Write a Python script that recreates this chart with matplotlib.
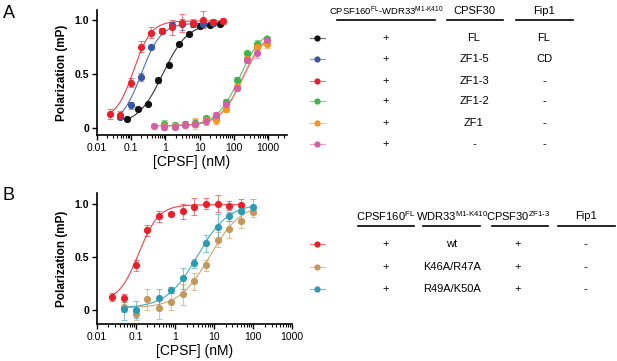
#!/usr/bin/env python3
# -*- coding: utf-8 -*-

import numpy as np
import matplotlib
matplotlib.use('Agg')
import matplotlib.pyplot as plt
from matplotlib.ticker import FixedLocator, LogLocator, NullFormatter

plt.rcParams['font.family'] = ['Liberation Sans', 'DejaVu Sans']
plt.rcParams['mathtext.fontset'] = 'custom'
plt.rcParams['mathtext.rm'] = 'Liberation Sans'
plt.rcParams['mathtext.it'] = 'Liberation Sans'

# ---- panel A data (CPSF concentration in nM, polarization) ----
a_conc_red = [0.024, 0.049, 0.098, 0.195, 0.39, 0.78, 1.56, 3.125, 6.25, 12.5, 25, 50]
a_red = [0.13, 0.12, 0.42, 0.75, 0.88, 0.90, 0.93, 0.97, 0.97, 1.0, 0.98, 0.99]
a_red_err = [0.05, 0.04, 0.04, 0.05, 0.05, 0.02, 0.07, 0.08, 0.04, 0.08, 0.03, 0.03]

a_conc_blue = [0.049, 0.098, 0.195, 0.39, 0.78, 1.56, 3.125, 6.25, 12.5, 25]
a_blue = [0.10, 0.21, 0.47, 0.75, 0.90, 0.95, 0.96, 0.96, 0.96, 0.97]
a_blue_err = [0.02, 0.03, 0.04, 0.02, 0.02, 0.03, 0.05, 0.03, 0.03, 0.03]

a_conc_black = [0.078, 0.156, 0.31, 0.625, 1.25, 2.5, 5, 10, 20, 40]
a_black = [0.086, 0.18, 0.22, 0.44, 0.58, 0.78, 0.87, 0.94, 0.95, 0.96]
a_black_err = [0.01, 0.01, 0.01, 0.02, 0.01, 0.01, 0.02, 0.01, 0.02, 0.02]

a_conc_green = [0.94, 1.87, 3.75, 7.5, 15, 30, 60, 120, 240, 480, 960]
a_green = [0.04, 0.03, 0.04, 0.05, 0.09, 0.10, 0.24, 0.44, 0.69, 0.78, 0.82]
a_green_err = [0.03, 0.02, 0.02, 0.03, 0.02, 0.02, 0.03, 0.03, 0.02, 0.03, 0.03]

a_conc_orange = [0.94, 1.87, 3.75, 7.5, 15, 30, 60, 120, 240, 480, 960]
a_orange = [0.02, 0.02, 0.03, 0.04, 0.07, 0.07, 0.18, 0.38, 0.64, 0.75, 0.78]
a_orange_err = [0.03, 0.03, 0.02, 0.05, 0.03, 0.03, 0.03, 0.03, 0.03, 0.03, 0.04]

a_conc_pink = [0.47, 0.94, 1.87, 3.75, 7.5, 15, 30, 60, 120, 240, 480, 960]
a_pink = [0.02, 0.005, 0.01, 0.03, 0.04, 0.06, 0.12, 0.22, 0.37, 0.63, 0.69, 0.81]
a_pink_err = [0.02, 0.02, 0.02, 0.02, 0.03, 0.03, 0.03, 0.03, 0.03, 0.03, 0.04, 0.03]

# Hill fit parameters: bottom, top, EC50 (nM), slope
a_fit_red = [0.08, 0.99, 0.12, 1.7]
a_fit_blue = [0.03, 0.97, 0.20, 1.5]
a_fit_black = [0.03, 0.97, 0.85, 1.2]
a_fit_green = [0.02, 0.93, 150, 1.3]
a_fit_orange = [0.02, 0.90, 185, 1.3]
a_fit_pink = [0.02, 0.91, 180, 1.3]

# ---- panel B data ----
b_conc_red = [0.025, 0.05, 0.1, 0.2, 0.4, 0.8, 1.6, 3.125, 6.25, 12.5, 25, 50]
b_red = [0.125, 0.115, 0.42, 0.75, 0.88, 0.90, 0.93, 0.97, 1.0, 1.0, 0.98, 0.99]
b_red_err = [0.04, 0.04, 0.05, 0.05, 0.05, 0.02, 0.07, 0.08, 0.05, 0.08, 0.04, 0.05]

b_conc_tan = [0.05, 0.1, 0.2, 0.4, 0.8, 1.6, 3.125, 6.25, 12.5, 25, 50, 100]
b_tan = [0.03, -0.04, 0.10, 0.02, 0.08, 0.15, 0.27, 0.42, 0.66, 0.76, 0.84, 0.92]
b_tan_err = [0.05, 0.05, 0.10, 0.10, 0.08, 0.10, 0.08, 0.05, 0.07, 0.08, 0.07, 0.05]

b_conc_teal = [0.05, 0.1, 0.4, 0.8, 1.6, 3.125, 6.25, 12.5, 25, 50, 100]
b_teal = [0.01, 0.005, 0.11, 0.19, 0.30, 0.44, 0.63, 0.78, 0.88, 0.93, 0.97]
b_teal_err = [0.10, 0.08, 0.09, 0.03, 0.10, 0.04, 0.08, 0.12, 0.04, 0.08, 0.07]

b_fit_red = [0.08, 0.99, 0.12, 1.7]
b_fit_tan = [0.02, 1.0, 8.0, 1.1]
b_fit_teal = [0.02, 1.0, 3.8, 1.1]

x_ticks = [0.01, 0.1, 1, 10, 100, 1000]
x_ticklabels = ['0.01', '0.1', '1', '10', '100', '1000']
y_ticks = [0, 0.5, 1.0]
y_ticklabels = ['0', '0.5', '1.0']

# table contents
a_header = ['CPSF160$^{\\mathregular{FL}}$-WDR33$^{\\mathregular{M1\\text{-}K410}}$', 'CPSF30', 'Fip1']
a_rows_cpsf160 = ['+', '+', '+', '+', '+', '+']
a_rows_cpsf30 = ['FL', 'ZF1-5', 'ZF1-3', 'ZF1-2', 'ZF1', '-']
a_rows_fip1 = ['FL', 'CD', '-', '-', '-', '-']

b_header = ['CPSF160$^{\\mathregular{FL}}$', 'WDR33$^{\\mathregular{M1\\text{-}K410}}$',
            'CPSF30$^{\\mathregular{ZF1\\text{-}3}}$', 'Fip1']
b_rows_cpsf160 = ['+', '+', '+']
b_rows_wdr33 = ['wt', 'K46A/R47A', 'R49A/K50A']
b_rows_cpsf30 = ['+', '+', '+']
b_rows_fip1 = ['-', '-', '-']

C_BLACK = '#111111'
C_BLUE = '#3a55a4'
C_RED = '#e8202a'
C_GREEN = '#3cb54a'
C_ORANGE = '#f7941d'
C_PINK = '#d55fa6'
C_TAN = '#c4985a'
C_TEAL = '#2a9bb3'


def hill(x, p):
    b, t, k, n = p
    return b + (t - b) / (1 + (k / x) ** n)


def draw_series(ax, conc, vals, err, fit, color):
    xs = np.logspace(np.log10(conc[0]), np.log10(conc[-1]), 200)
    ax.plot(xs, hill(xs, fit), color=color, lw=0.8, alpha=0.85, zorder=2)
    ax.errorbar(conc, vals, yerr=err, fmt='none', ecolor=color, alpha=0.55,
                elinewidth=0.8, capsize=2.2, capthick=0.8, zorder=3)
    ax.plot(conc, vals, 'o', color=color, ms=5.2, mec='none', zorder=4)


def style_axes(ax, xlim, ylim):
    ax.set_xscale('log')
    ax.set_xlim(*xlim)
    ax.set_ylim(*ylim)
    for s in ['top', 'right']:
        ax.spines[s].set_visible(False)
    for s in ['left', 'bottom']:
        ax.spines[s].set_linewidth(1.2)
    ax.xaxis.set_major_locator(FixedLocator(x_ticks))
    ax.set_xticklabels(x_ticklabels, fontsize=7.5)
    ax.xaxis.set_minor_locator(LogLocator(base=10, subs=np.arange(2, 10), numticks=20))
    ax.xaxis.set_minor_formatter(NullFormatter())
    ax.set_yticks(y_ticks)
    ax.set_yticklabels(y_ticklabels, fontsize=7.5, fontweight='bold')
    ax.tick_params(axis='both', which='major', length=3.5, width=1.0, pad=2)
    ax.tick_params(axis='x', which='minor', length=2, width=0.8)
    ax.set_xlabel('[CPSF] (nM)', fontsize=10, labelpad=2)
    ax.set_ylabel('Polarization (mP)', fontsize=8.5, fontweight='bold', labelpad=5)


def legend_marker(ov, x, y, color):
    ov.plot([x - 7, x + 8], [y, y], color=color, lw=0.8, alpha=0.6)
    ov.plot([x], [y], 'o', color=color, ms=4.5, mec='none')


def main():
    fig = plt.figure(figsize=(6.17, 3.61), dpi=100)

    # panel A
    ax_a = fig.add_axes([0.1567, 0.626, 0.308, 0.346])
    draw_series(ax_a, a_conc_black, a_black, a_black_err, a_fit_black, C_BLACK)
    draw_series(ax_a, a_conc_blue, a_blue, a_blue_err, a_fit_blue, C_BLUE)
    draw_series(ax_a, a_conc_green, a_green, a_green_err, a_fit_green, C_GREEN)
    draw_series(ax_a, a_conc_orange, a_orange, a_orange_err, a_fit_orange, C_ORANGE)
    draw_series(ax_a, a_conc_pink, a_pink, a_pink_err, a_fit_pink, C_PINK)
    draw_series(ax_a, a_conc_red, a_red, a_red_err, a_fit_red, C_RED)
    style_axes(ax_a, (0.01, 3500), (-0.065, 1.09))

    # panel B
    ax_b = fig.add_axes([0.1567, 0.1025, 0.3165, 0.363])
    draw_series(ax_b, b_conc_red, b_red, b_red_err, b_fit_red, C_RED)
    draw_series(ax_b, b_conc_tan, b_tan, b_tan_err, b_fit_tan, C_TAN)
    draw_series(ax_b, b_conc_teal, b_teal, b_teal_err, b_fit_teal, C_TEAL)
    style_axes(ax_b, (0.01, 1000), (-0.13, 1.1))

    # overlay in pixel coordinates for panel letters and tables
    ov = fig.add_axes([0, 0, 1, 1])
    ov.set_xlim(0, 617)
    ov.set_ylim(361, 0)
    ov.axis('off')

    ov.text(3, 13, 'A', fontsize=13, va='center', ha='left')
    ov.text(3, 196, 'B', fontsize=13, va='center', ha='left')

    # table A
    fs = 8
    a_cols = [386, 474, 544]
    a_lines = [(337, 435), (447, 503), (516, 573)]
    ov.text(a_cols[0], 11, a_header[0], fontsize=6.8, ha='center', va='center')
    ov.text(a_cols[1], 11, a_header[1], fontsize=fs, ha='center', va='center')
    ov.text(a_cols[2], 11, a_header[2], fontsize=fs, ha='center', va='center')
    for x0, x1 in a_lines:
        ov.plot([x0, x1], [20, 20], color='black', lw=1.2)
    a_row_y = [37.7, 59, 80.7, 101, 122.7, 144.3]
    a_colors = [C_BLACK, C_BLUE, C_RED, C_GREEN, C_ORANGE, C_PINK]
    for i, y in enumerate(a_row_y):
        legend_marker(ov, 317, y, a_colors[i])
        ov.text(a_cols[0], y, a_rows_cpsf160[i], fontsize=fs, ha='center', va='center')
        ov.text(a_cols[1], y, a_rows_cpsf30[i], fontsize=fs, ha='center', va='center')
        ov.text(a_cols[2], y, a_rows_fip1[i], fontsize=fs, ha='center', va='center')

    # table B
    b_cols = [386, 451.7, 518, 585.7]
    b_lines = [(357.7, 414.3), (423, 480), (492, 548), (558, 615)]
    for j, h in enumerate(b_header):
        ov.text(b_cols[j], 216, h, fontsize=fs, ha='center', va='center')
    for x0, x1 in b_lines:
        ov.plot([x0, x1], [226, 226], color='black', lw=1.2)
    b_row_y = [244.3, 266.7, 288.7]
    b_colors = [C_RED, C_TAN, C_TEAL]
    for i, y in enumerate(b_row_y):
        legend_marker(ov, 317, y, b_colors[i])
        ov.text(b_cols[0], y, b_rows_cpsf160[i], fontsize=fs, ha='center', va='center')
        ov.text(b_cols[1], y, b_rows_wdr33[i], fontsize=fs, ha='center', va='center')
        ov.text(b_cols[2], y, b_rows_cpsf30[i], fontsize=fs, ha='center', va='center')
        ov.text(b_cols[3], y, b_rows_fip1[i], fontsize=fs, ha='center', va='center')

    fig.savefig('out.png', dpi=100)
    plt.close(fig)


if __name__ == "__main__":
    main()
